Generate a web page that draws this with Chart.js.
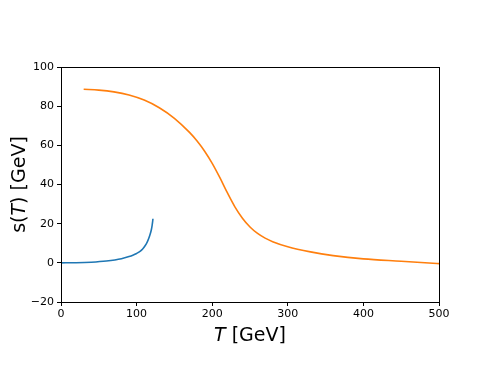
<!DOCTYPE html>
<html>
<head>
<meta charset="utf-8">
<script src="https://cdn.jsdelivr.net/npm/chart.js@4"></script>
<style>
  html, body { margin: 0; padding: 0; background: #fff; }
  #wrap { width: 488px; height: 366px; }
</style>
</head>
<body>
<div id="wrap"><canvas id="sChart" width="488" height="366"></canvas></div>
<script>
// values
const blueT = [0, 20, 40, 60, 80, 90, 95, 100, 105, 108, 111, 114, 116, 118, 119.5, 120.5, 121.2, 121.6];
const blueS = [0, 0.05, 0.3, 0.9, 2.1, 3.2, 3.9, 4.8, 6.0, 7.1, 8.6, 10.6, 12.4, 14.7, 16.9, 19.0, 21.0, 22.5];

const orangeT = [30, 50, 70, 90, 110, 130, 150, 170, 180, 190, 200, 210, 220, 230, 240, 250, 260, 270, 280, 300, 330, 360, 400, 450, 500];
const orangeS = [88.6, 88.2, 87.3, 85.7, 83.1, 79.2, 73.8, 66.6, 62.2, 57.0, 50.8, 43.6, 35.8, 28.6, 22.8, 18.3, 15.0, 12.6, 10.8, 8.2, 5.6, 3.7, 2.0, 0.8, -0.4];

const xRange = [0, 500];
const yRange = [-20, 100];

const toPts = (xs, ys) => xs.map((x, i) => ({ x: x, y: ys[i] }));

// full box around the plot, plus axis titles with italic T
const framePlugin = {
  id: 'frame',
  afterDraw(chart) {
    const { ctx, chartArea: a } = chart;
    ctx.save();
    ctx.strokeStyle = '#000';
    ctx.lineWidth = 1;
    ctx.strokeRect(a.left + 0.5, a.top + 0.5, a.right - a.left, a.bottom - a.top);

    const size = 19;
    const it = 'italic ' + size + 'px "DejaVu Sans"';
    const rm = size + 'px "DejaVu Sans"';
    ctx.fillStyle = '#000';
    ctx.textBaseline = 'alphabetic';

    // x title: "T [GeV]"
    ctx.font = it;
    const wT = ctx.measureText('T').width;
    ctx.font = rm;
    const wR = ctx.measureText(' [GeV]').width;
    let x0 = (a.left + a.right) / 2 - (wT + wR) / 2;
    ctx.font = it;
    ctx.fillText('T', x0, 341);
    ctx.font = rm;
    ctx.fillText(' [GeV]', x0 + wT, 341);

    // y title: "s(T) [GeV]"
    ctx.translate(25, (a.top + a.bottom) / 2);
    ctx.rotate(-Math.PI / 2);
    const parts = [['s(', rm], ['T', it], [') [GeV]', rm]];
    let total = 0;
    parts.forEach(p => { ctx.font = p[1]; total += ctx.measureText(p[0]).width; });
    let px = -total / 2;
    parts.forEach(p => {
      ctx.font = p[1];
      ctx.fillText(p[0], px, 0);
      px += ctx.measureText(p[0]).width;
    });
    ctx.restore();
  }
};

const tickFont = { family: '"DejaVu Sans"', size: 11 };
const minus = v => String(v).replace('-', '\u2212');

new Chart(document.getElementById('sChart'), {
  type: 'line',
  data: {
    datasets: [
      {
        data: toPts(blueT, blueS),
        borderColor: '#1f77b4',
        borderWidth: 1.6,
        pointRadius: 0,
        cubicInterpolationMode: 'monotone'
      },
      {
        data: toPts(orangeT, orangeS),
        borderColor: '#ff7f0e',
        borderWidth: 1.6,
        pointRadius: 0,
        cubicInterpolationMode: 'monotone'
      }
    ]
  },
  options: {
    responsive: false,
    animation: false,
    layout: { padding: { left: 0, top: 67, right: 49, bottom: 0 } },
    plugins: {
      legend: { display: false },
      tooltip: { enabled: false }
    },
    scales: {
      x: {
        type: 'linear',
        min: xRange[0],
        max: xRange[1],
        afterFit: s => { s.height = 64; },
        border: { color: '#000', width: 1 },
        grid: { drawOnChartArea: false, drawTicks: true, tickLength: 4, color: '#000' },
        ticks: { stepSize: 100, color: '#000', font: tickFont, padding: 2, maxRotation: 0, callback: minus }
      },
      y: {
        type: 'linear',
        min: yRange[0],
        max: yRange[1],
        afterFit: s => { s.width = 61; },
        border: { color: '#000', width: 1 },
        grid: { drawOnChartArea: false, drawTicks: true, tickLength: 4, color: '#000' },
        ticks: { stepSize: 20, color: '#000', font: tickFont, padding: 3, callback: minus }
      }
    }
  },
  plugins: [framePlugin]
});
</script>
</body>
</html>
